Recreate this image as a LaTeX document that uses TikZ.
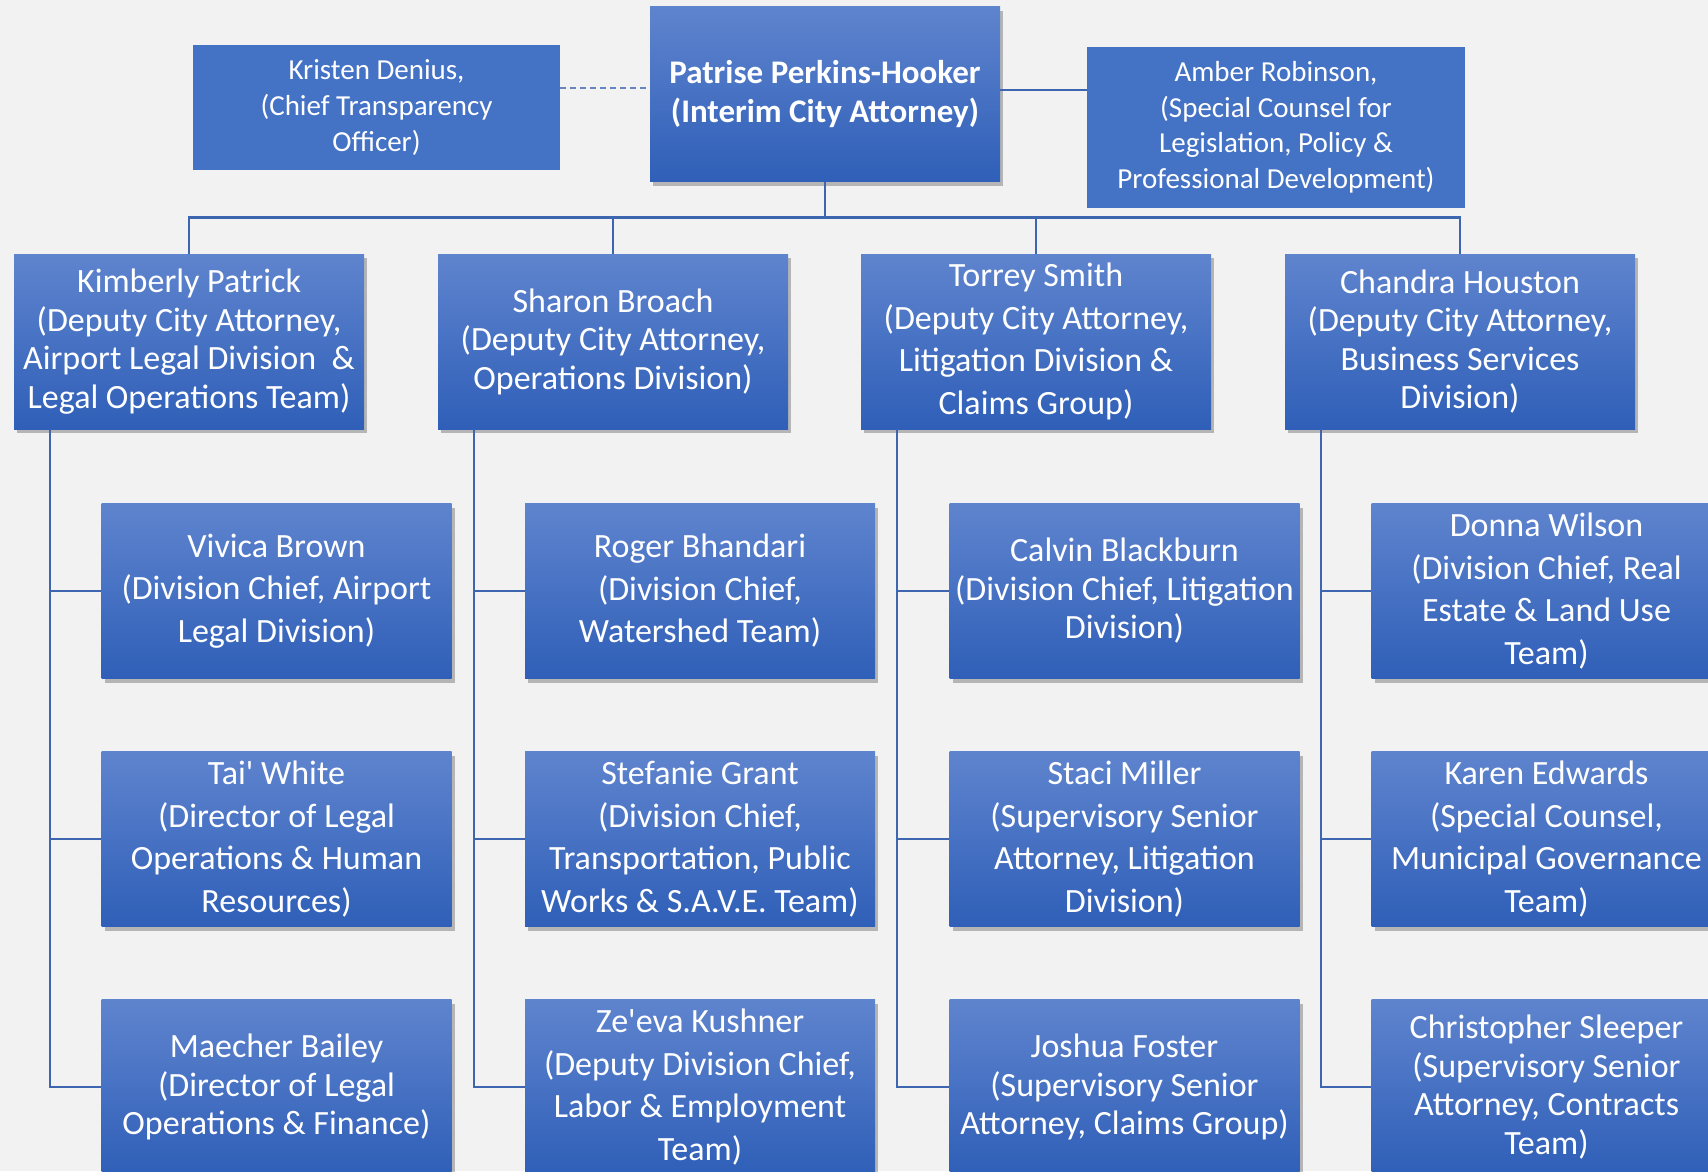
\documentclass[tikz,border=0pt]{standalone}
\usepackage{fontspec}
\setmainfont{Carlito}
\usetikzlibrary{shadows}

\definecolor{boxtop}{HTML}{5F84CE}
\definecolor{boxbot}{HTML}{2F5FB8}
\definecolor{boxflat}{HTML}{4472C4}
\definecolor{linkcol}{HTML}{3E65B0}
\definecolor{pagebg}{HTML}{F2F2F2}

\begin{document}
\begin{tikzpicture}[
    x=1pt, y=1pt,
    person/.style={rectangle, inner sep=0pt, minimum width=350pt, minimum height=175pt, align=center, text=white,
        top color=boxtop, bottom color=boxbot,
        drop shadow={shadow xshift=3pt, shadow yshift=-4pt, fill=black, opacity=0.25},
        font=\fontsize{34}{42.5}\selectfont},
    deputy/.style={person, font=\fontsize{34}{38.5}\selectfont},
    advisor/.style={rectangle, inner sep=0pt, align=center, text=white, fill=boxflat,
        font=\fontsize{29}{36}\selectfont},
    link/.style={draw=linkcol, line width=2.5pt},
    dotlink/.style={draw=linkcol!80, line width=1.5pt, dash pattern=on 6pt off 4pt}
]

% Page
\fill[pagebg] (0,0) rectangle (1708,-1171);
\useasboundingbox (0,0) rectangle (1708,-1171);

% City Attorney and advisors
\node[person, font=\bfseries\fontsize{33}{39}\selectfont] (cao) at (825,-94) {Patrise Perkins-Hooker\\(Interim City Attorney)};
\node[advisor, minimum width=367pt, minimum height=125pt] (kd) at (376.5,-107.5) {Kristen Denius,\\(Chief Transparency\\Officer)};
\node[advisor, minimum width=378pt, minimum height=161pt, font=\fontsize{29}{35.5}\selectfont] (ar) at (1276,-127.5) {Amber Robinson,\\(Special Counsel for\\Legislation, Policy \&\\Professional Development)};

% Deputy City Attorneys
\node[deputy] (kp) at (189,-341.5) {Kimberly Patrick\\(Deputy City Attorney,\\Airport Legal Division\ \ \&\\Legal Operations Team)};
\node[deputy] (sb) at (613,-341.5) {Sharon Broach\\(Deputy City Attorney,\\Operations Division)};
\node[person] (ts) at (1036,-341.5) {Torrey Smith\\(Deputy City Attorney,\\Litigation Division \&\\Claims Group)};
\node[deputy] (ch) at (1460,-341.5) {Chandra Houston\\(Deputy City Attorney,\\Business Services\\Division)};

% Airport / Legal Operations
\node[person] (vb) at (276.5,-591) {Vivica Brown\\(Division Chief, Airport\\Legal Division)};
\node[person] (tw) at (276.5,-839) {Tai\textquotesingle{} White\\(Director of Legal\\Operations \& Human\\Resources)};
\node[person, font=\fontsize{34}{38.5}\selectfont] (mb) at (276.5,-1087) {Maecher Bailey\\(Director of Legal\\Operations \& Finance)};

% Operations
\node[person] (rb) at (700,-591) {Roger Bhandari\\(Division Chief,\\Watershed Team)};
\node[person] (sg) at (700,-839) {Stefanie Grant\\(Division Chief,\\Transportation, Public\\Works \& S.A.V.E. Team)};
\node[person] (zk) at (700,-1087) {Ze\textquotesingle{}eva Kushner\\(Deputy Division Chief,\\Labor \& Employment\\Team)};

% Litigation / Claims
\node[person, font=\fontsize{34}{38.5}\selectfont] (cb) at (1124.5,-591) {Calvin Blackburn\\(Division Chief, Litigation\\Division)};
\node[person] (sm) at (1124.5,-839) {Staci Miller\\(Supervisory Senior\\Attorney, Litigation\\Division)};
\node[person, font=\fontsize{34}{38.5}\selectfont] (jf) at (1124.5,-1087) {Joshua Foster\\(Supervisory Senior\\Attorney, Claims Group)};

% Business Services
\node[person] (dw) at (1546.5,-591) {Donna Wilson\\(Division Chief, Real\\Estate \& Land Use\\Team)};
\node[person] (ke) at (1546.5,-839) {Karen Edwards\\(Special Counsel,\\Municipal Governance\\Team)};
\node[person, font=\fontsize{34}{38.5}\selectfont] (cs) at (1546.5,-1087) {Christopher Sleeper\\(Supervisory Senior\\Attorney, Contracts\\Team)};

% Links to the top
\draw[dotlink] ([yshift=19.5]kd.east) -- ([yshift=6]cao.west);
\draw[link] ([yshift=4]cao.east) -- ([yshift=37.5]ar.west);
\draw[link] (cao.south) -- ++(0,-36) -| (kp.north);
\draw[link] (cao.south) -- ++(0,-36) -| (sb.north);
\draw[link] (cao.south) -- ++(0,-36) -| (ts.north);
\draw[link] (cao.south) -- ++(0,-36) -| (ch.north);

% Links to the teams
\draw[link] ([xshift=36]kp.south west) |- (vb.west);
\draw[link] ([xshift=36]kp.south west) |- (tw.west);
\draw[link] ([xshift=36]kp.south west) |- (mb.west);
\draw[link] ([xshift=36]sb.south west) |- (rb.west);
\draw[link] ([xshift=36]sb.south west) |- (sg.west);
\draw[link] ([xshift=36]sb.south west) |- (zk.west);
\draw[link] ([xshift=36]ts.south west) |- (cb.west);
\draw[link] ([xshift=36]ts.south west) |- (sm.west);
\draw[link] ([xshift=36]ts.south west) |- (jf.west);
\draw[link] ([xshift=36]ch.south west) |- (dw.west);
\draw[link] ([xshift=36]ch.south west) |- (ke.west);
\draw[link] ([xshift=36]ch.south west) |- (cs.west);

\end{tikzpicture}
\end{document}
